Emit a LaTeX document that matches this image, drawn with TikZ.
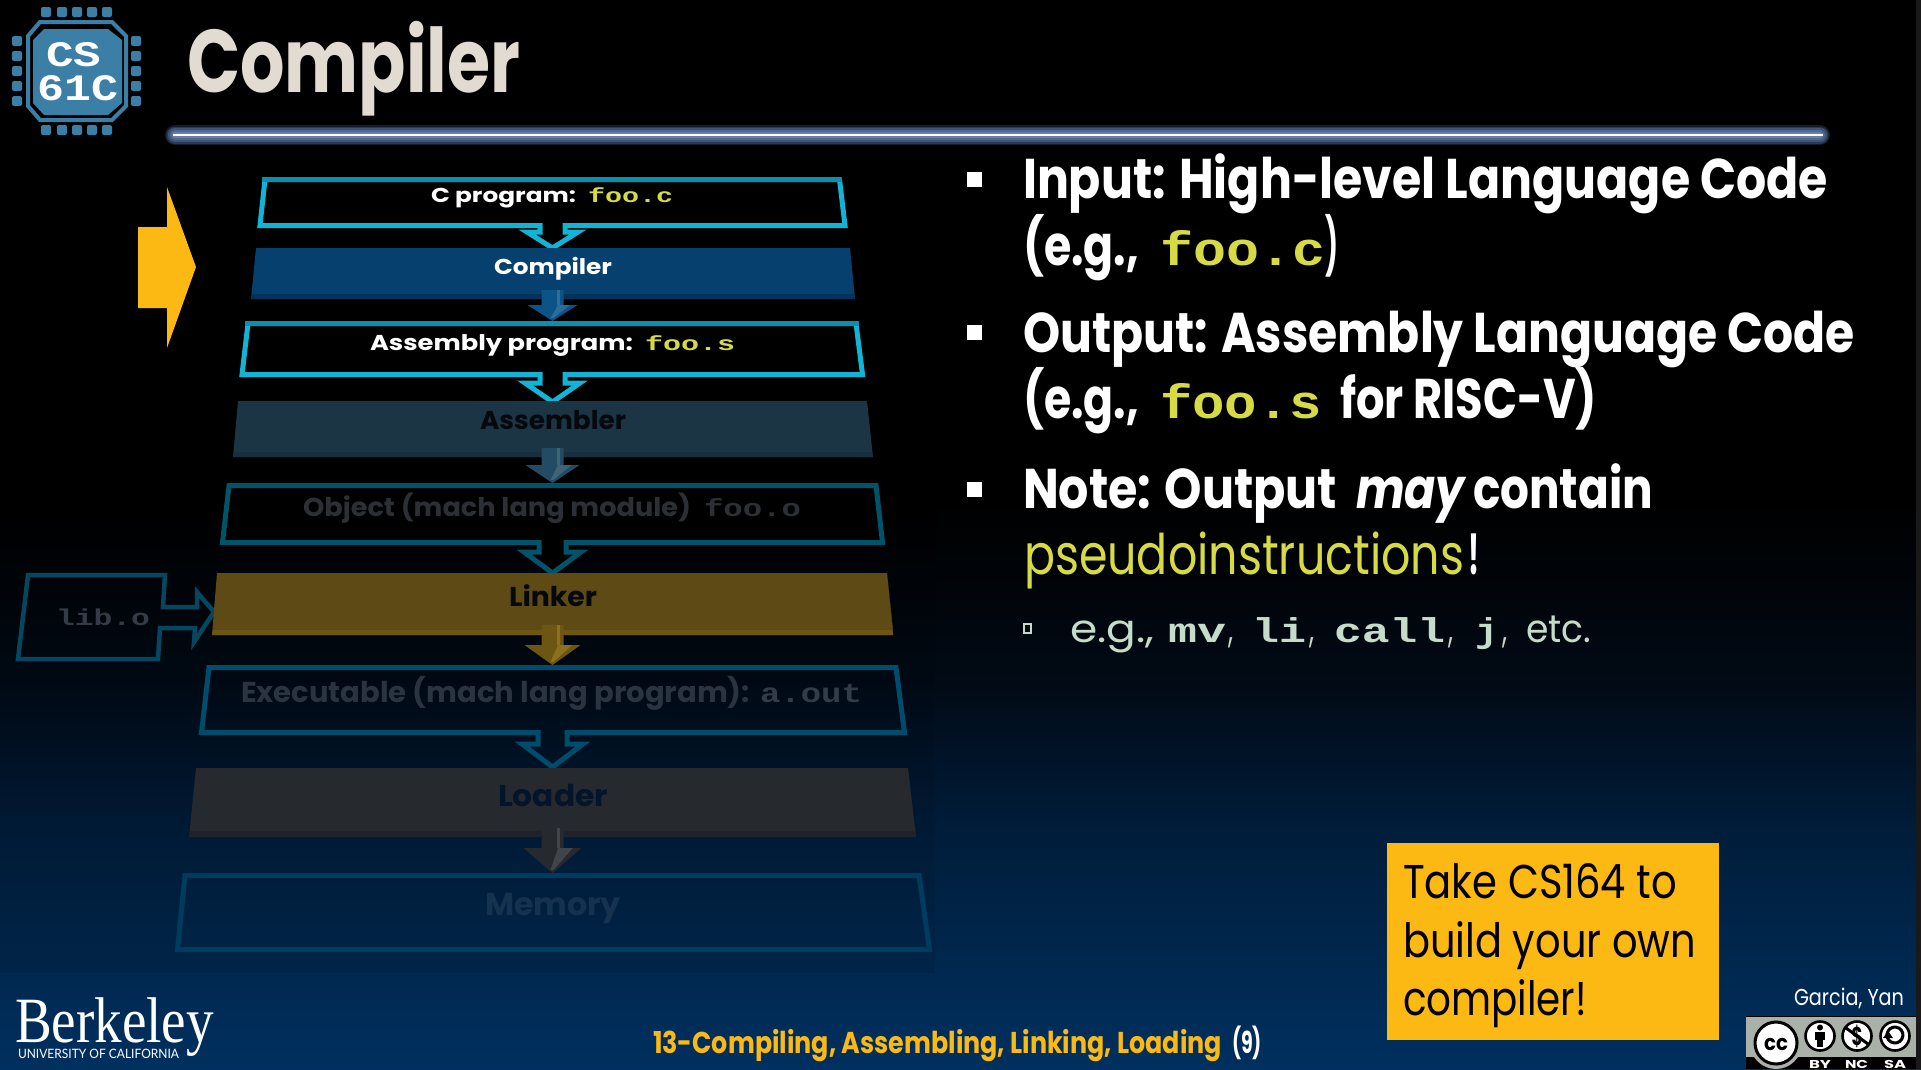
\documentclass[tikz,border=0pt]{standalone}
\usepackage{graphicx}
\usepackage{fontspec}
\setmainfont{Poppins}
\newfontfamily\serf{Liberation Serif}
\newfontfamily\lato{Lato}
\newfontfamily\monob{Liberation Mono}
\usetikzlibrary{calc}
\newcommand\fitt[3]{\resizebox{#1pt}{#2pt}{\vphantom{H}\smash{#3}}}
\newcommand\T[7]{\node[txt,text=#6] (#1) at (#2,#3) {\fitt{#4}{#5}{#7}};}
\newcommand\MT{\monob\bfseries}
\newcommand\solidarrow[7]{%
  \fill[#1] ($(#3)+(-#5,0)$) -- ($(#3)+(#5,0)$) -- ($(#4)+(#5,-#6)$) -- ($(#4)+(#7,-#6)$) -- (#4) -- ($(#4)+(-#7,-#6)$) -- ($(#4)+(-#5,-#6)$) -- cycle;
  \fill[#2] ($(#4)+(0.5*#5,-#6)$) -- ($(#4)+(0.7*#7,-#6)$) -- ($(#4)+(1,-3)$) -- ($(#4)+(-2,-3)$) -- cycle;
  \fill[#2] ($(#3)+(0.45*#5,0)$) rectangle ($(#4)+(0.7*#5,-#6)$);
}
\definecolor{gold}{HTML}{FDB913}
\definecolor{fooy}{HTML}{D6DB45}
\definecolor{chip}{HTML}{3B7EA6}
\definecolor{edgea}{HTML}{12B4D6}
\definecolor{edgeat}{HTML}{0C8FAE}
\definecolor{edgeb}{HTML}{005368}
\definecolor{edgec}{HTML}{004C6C}
\definecolor{edged}{HTML}{003C5E}
\definecolor{edgel}{HTML}{06465F}
\definecolor{bgb}{HTML}{010A15}
\definecolor{bgc}{HTML}{001D3A}
\definecolor{bgd}{HTML}{00305F}
\definecolor{titlec}{HTML}{E1DBD1}
\definecolor{compf}{HTML}{05406F}\definecolor{compb}{HTML}{03335A}\definecolor{compa}{HTML}{0C5488}\definecolor{compl}{HTML}{2F6C9C}
\definecolor{asmf}{HTML}{1C3544}\definecolor{asmb}{HTML}{17303F}\definecolor{asma}{HTML}{234B63}\definecolor{asml}{HTML}{3E6478}
\definecolor{linkf}{HTML}{5E4A14}\definecolor{linkb}{HTML}{6D5512}\definecolor{linkl}{HTML}{8A7020}
\definecolor{loadf}{HTML}{262A2F}\definecolor{loadb}{HTML}{1F2329}\definecolor{loadl}{HTML}{40454C}
\definecolor{dimobj}{HTML}{2C2F34}
\definecolor{dimexe}{HTML}{2A3340}
\definecolor{dimmono}{HTML}{333C46}
\definecolor{tasm}{HTML}{05090D}
\definecolor{tlink}{HTML}{05080C}
\definecolor{tload}{HTML}{04142A}
\definecolor{tmem}{HTML}{15324F}
\definecolor{subt}{HTML}{C5DCCB}
\definecolor{glowa}{HTML}{141C2B}
\definecolor{glowb}{HTML}{2A3A56}
\definecolor{glowc}{HTML}{3E5478}
\definecolor{glowd}{HTML}{52698F}
\definecolor{glowe}{HTML}{6580AA}
\definecolor{badge}{HTML}{AAB1A8}
\tikzset{
  txt/.style={anchor=base west,inner sep=0pt,outer sep=0pt},
  hollow/.style={draw=#1,line width=5pt,line join=miter,miter limit=10},
  pad/.style={fill=chip,rounded corners=2pt},
  ccring/.style={fill=white,draw=black,line width=2.6pt},
  glowline/.style={line cap=round,line width=#1},
}
\begin{document}
\begin{tikzpicture}[x=1pt,y=-1pt]
\useasboundingbox (0,0) rectangle (1921,1069);
% background
\fill[black] (0,0) rectangle (1921,501);
\shade[top color=black,bottom color=bgb] (0,500) rectangle (1921,681);
\shade[top color=bgb,bottom color=bgc] (0,680) rectangle (1921,831);
\shade[top color=bgc,bottom color=bgd] (0,830) rectangle (1921,1069);
\fill[black,opacity=.08] (0,500) rectangle (935,973);
\fill[black!90!white] (1916,0) rectangle (1921,1069);
% header rule
\draw[glowline=20pt,glowa] (175,135) -- (1820,135);
\draw[glowline=17pt,glowb] (175,135) -- (1820,135);
\draw[glowline=14pt,glowc] (175,135) -- (1820,135);
\draw[glowline=10pt,glowd] (175,135) -- (1820,135);
\draw[glowline=6pt,glowe] (175,135) -- (1820,135);
\draw[line width=2.6pt,color=white] (173,135) -- (1823,135);
% logo
\foreach \x in {46,62,77,92,107}{\fill[pad] (\x-5,7) rectangle (\x+5,17); \fill[pad] (\x-5,125) rectangle (\x+5,135);}
\foreach \y in {41,56,71,86,101}{\fill[pad] (12,\y-5) rectangle (22,\y+5); \fill[pad] (131,\y-5) rectangle (141,\y+5);}
\draw[chip,line width=4pt] (40,22) -- (112,22) -- (126,36) -- (126,106) -- (112,120) -- (40,120) -- (28,106) -- (28,36) -- cycle;
\fill[chip] (44,29) -- (108,29) -- (122,40) -- (122,103) -- (108,115) -- (44,115) -- (33,103) -- (33,40) -- cycle;
\T{logoa}{46}{66}{55}{25}{white}{\MT CS}
\T{logob}{37}{100}{81}{26}{white}{\MT 61C}
% title
\T{title}{187}{92}{333}{62}{titlec}{\bfseries Compiler}
% hollow boxes with their open arrows
\draw[hollow=edgea,fill=black] (265,179.5) -- (839.5,179.5) -- (845,225.5) -- (565,225.5) -- (565,232) -- (578,232) -- (552.5,248) -- (527,232) -- (540,232) -- (540,225.5) -- (260,225.5) -- cycle;
\draw[edgeat,line width=5pt] (262,179.5) -- (842,179.5);
\draw[hollow=edgea,fill=black] (248,323.5) -- (856,323.5) -- (862.5,374.5) -- (565,374.5) -- (565,383) -- (580,383) -- (552.5,402) -- (525,383) -- (540,383) -- (540,374.5) -- (242,374.5) -- cycle;
\draw[edgeat,line width=5pt] (245,323.5) -- (859,323.5);
\draw[hollow=edgeb,fill=black] (229,485.5) -- (876,485.5) -- (882.5,542.5) -- (566,542.5) -- (566,552) -- (581,552) -- (552.5,573) -- (524,552) -- (539,552) -- (539,542.5) -- (222.5,542.5) -- cycle;
\draw[hollow=edgec] (209,667.5) -- (896,667.5) -- (904.5,732.5) -- (567,732.5) -- (567,744) -- (583,744) -- (552.5,767) -- (522,744) -- (538,744) -- (538,732.5) -- (201.5,732.5) -- cycle;
\draw[hollow=edged] (185,875.5) -- (919,875.5) -- (929.5,949.5) -- (177.5,949.5) -- cycle;
\draw[hollow=edgel,line width=4.5pt] (28,575) -- (165,575) -- (163,607) -- (197,607) -- (197,592) -- (214,612) -- (194,642) -- (195,628) -- (160,628) -- (158,659) -- (18,659) -- cycle;
% solid boxes
\fill[compf] (256,248) -- (850,248) -- (855,299) -- (251,299) -- cycle;
\fill[compb] (252,294) -- (854,294) -- (855,299) -- (251,299) -- cycle;
\fill[asmf] (238,401) -- (867,401) -- (873,457) -- (233,457) -- cycle;
\fill[asmb] (234,452) -- (872,452) -- (873,457) -- (233,457) -- cycle;
\fill[linkf] (217,573) -- (887,573) -- (893,635) -- (212,635) -- cycle;
\fill[linkb] (887,573) -- (893,630) -- (213,630) -- (212,635) -- (893,635) -- cycle;
\fill[loadf] (196,768) -- (908,768) -- (916,837) -- (189,837) -- cycle;
\fill[loadb] (190,831) -- (914,831) -- (916,837) -- (189,837) -- cycle;
% solid arrows, from box to box
\coordinate (ca) at (552.5,290); \coordinate (cb) at (552.5,321);
\coordinate (aa) at (552.5,448); \coordinate (ab) at (552.5,483);
\coordinate (la) at (552.5,625); \coordinate (lb) at (552.5,665);
\coordinate (ma) at (552.5,828); \coordinate (mb) at (552.5,873);
\solidarrow{compa}{compl}{ca}{cb}{11}{16}{25}
\solidarrow{asma}{asml}{aa}{ab}{11}{18}{27}
\solidarrow{linkb}{linkl}{la}{lb}{11}{20}{28}
\solidarrow{loadf}{loadl}{ma}{mb}{11}{25}{29}
% yellow pointer
\fill[gold] (138,227) -- (167,227) -- (167,187) -- (196,267) -- (167,348) -- (167,308) -- (138,308) -- cycle;
% box texts
\T{t1}{431}{202}{145}{14}{white}{\bfseries C program:}
\T{t1b}{588}{202}{85}{14}{fooy}{\MT foo.c}
\T{t2}{494}{274}{118}{15}{white}{\bfseries Compiler}
\T{t3}{370}{350}{263}{15}{white}{\bfseries Assembly program:}
\T{t3b}{645}{350}{90}{14}{fooy}{\MT foo.s}
\T{t4}{480}{429}{146}{18}{tasm}{\bfseries Assembler}
\T{t5}{303}{516}{388}{18}{dimobj}{\bfseries Object (mach lang module)}
\T{t5b}{704}{516}{97}{17}{dimobj}{\MT foo.o}
\T{t6}{509}{606}{88}{19}{tlink}{\bfseries Linker}
\T{t7}{241}{702}{509}{20}{dimexe}{\bfseries Executable (mach lang program):}
\T{t7b}{760}{702}{102}{19}{dimmono}{\MT a.out}
\T{t8}{498}{806}{110}{21}{tload}{\bfseries Loader}
\T{t9}{485}{915}{136}{22}{tmem}{\bfseries Memory}
\T{t10}{56}{625}{94}{16}{dimmono}{\MT lib.o}
% bullets text
\foreach \y in {172,325,482}{\fill[white] (967,\y) rectangle (982,\y+15);}
\T{r1}{1023}{198}{805}{39}{white}{\bfseries Input: High-level Language Code}
\T{r2a}{1023}{265}{116}{39}{white}{\bfseries (e.g.,}
\T{r2b}{1160}{265}{165}{33}{fooy}{\MT foo.c}
\T{r2c}{1325}{265}{13}{39}{white}{\bfseries )}
\T{r3}{1023}{352}{832}{39}{white}{\bfseries Output: Assembly Language Code}
\T{r4a}{1023}{418}{116}{39}{white}{\bfseries (e.g.,}
\T{r4b}{1160}{418}{162}{33}{fooy}{\MT foo.s}
\T{r4c}{1340}{418}{257}{39}{white}{\bfseries for RISC-V)}
\T{r5a}{1023}{508}{314}{39}{white}{\bfseries Note: Output}
\T{r5b}{1356}{508}{109}{39}{white}{\bfseries\itshape may}
\T{r5c}{1473}{508}{180}{39}{white}{\bfseries contain}
\T{r6a}{1024}{574}{440}{39}{fooy}{pseudoinstructions}
\T{r6b}{1468}{574}{11}{39}{white}{\bfseries !}
\draw[subt,line width=1.2pt] (1024,624) rectangle (1031,633);
\T{s1}{1070}{642}{84}{27}{subt}{e.g.,}
\T{s2}{1168}{642}{58}{24}{subt}{\MT mv}
\T{s2c}{1228}{642}{5}{27}{subt}{,}
\T{s3}{1252}{642}{54}{24}{subt}{\MT li}
\T{s3c}{1309}{642}{5}{27}{subt}{,}
\T{s4}{1334}{642}{111}{24}{subt}{\MT call}
\T{s4c}{1448}{642}{5}{27}{subt}{,}
\T{s5}{1475}{642}{23}{24}{subt}{\MT j}
\T{s5c}{1502}{642}{5}{27}{subt}{,}
\T{s6}{1526}{642}{65}{27}{subt}{etc.}
% note box
\fill[gold] (1387,843) rectangle (1719,1040);
\T{n1}{1403}{898}{274}{33}{black}{Take CS164 to}
\T{n2}{1403}{957}{293}{33}{black}{build your own}
\T{n3}{1403}{1015}{184}{33}{black}{compiler!}
% footer
\T{f1}{653}{1053}{569}{21}{gold}{\bfseries 13-Compiling, Assembling, Linking, Loading}
\T{f2}{1232}{1053}{30}{21}{white}{\bfseries (9)}
\T{b1}{15}{1042}{199}{45}{white}{\serf Berkeley}
\T{b2}{18}{1058}{161}{9}{white}{\lato UNIVERSITY OF CALIFORNIA}
\T{g1}{1794}{1005}{110}{16}{white}{Garcia, Yan}
% licence badge
\begin{scope}
\clip (1745,1015) rectangle (1916,1069);
\fill[badge] (1746,1016) rectangle (1916,1069);
\draw[black,line width=1pt] (1746,1016) -- (1916,1016);
\fill[black] (1746,1057) rectangle (1916,1069);
\fill[badge] (1776,1043) circle (26);
\draw[ccring,line width=3pt] (1776,1043) circle (21);
\node[txt,anchor=center] (cc) at (1776,1043) {\fitt{24}{15}{\bfseries cc}};
\draw[ccring] (1820,1036) circle (14.5);
\fill[black] (1820,1027.5) circle (3);
\fill[black] (1815,1032) rectangle (1825,1040);
\fill[black] (1817,1040) rectangle (1823,1047);
\draw[ccring] (1857,1036) circle (14.5);
\node[txt,anchor=center] (ncd) at (1857,1036) {\fitt{11}{18}{\bfseries\$}};
\draw[black,line width=3pt] (1846,1028) -- (1868,1044);
\draw[ccring] (1895,1036) circle (14.5);
\draw[black,line width=3pt] (1888,1031) arc (210:-150:8);
\fill[black] (1883,1038) -- (1893,1038) -- (1888,1031) -- cycle;
\T{by}{1809}{1068}{22}{8}{white}{\bfseries BY}
\T{nc}{1845}{1068}{23}{8}{white}{\bfseries NC}
\T{sa}{1884}{1068}{22}{8}{white}{\bfseries SA}
\end{scope}
\end{tikzpicture}
\end{document}
